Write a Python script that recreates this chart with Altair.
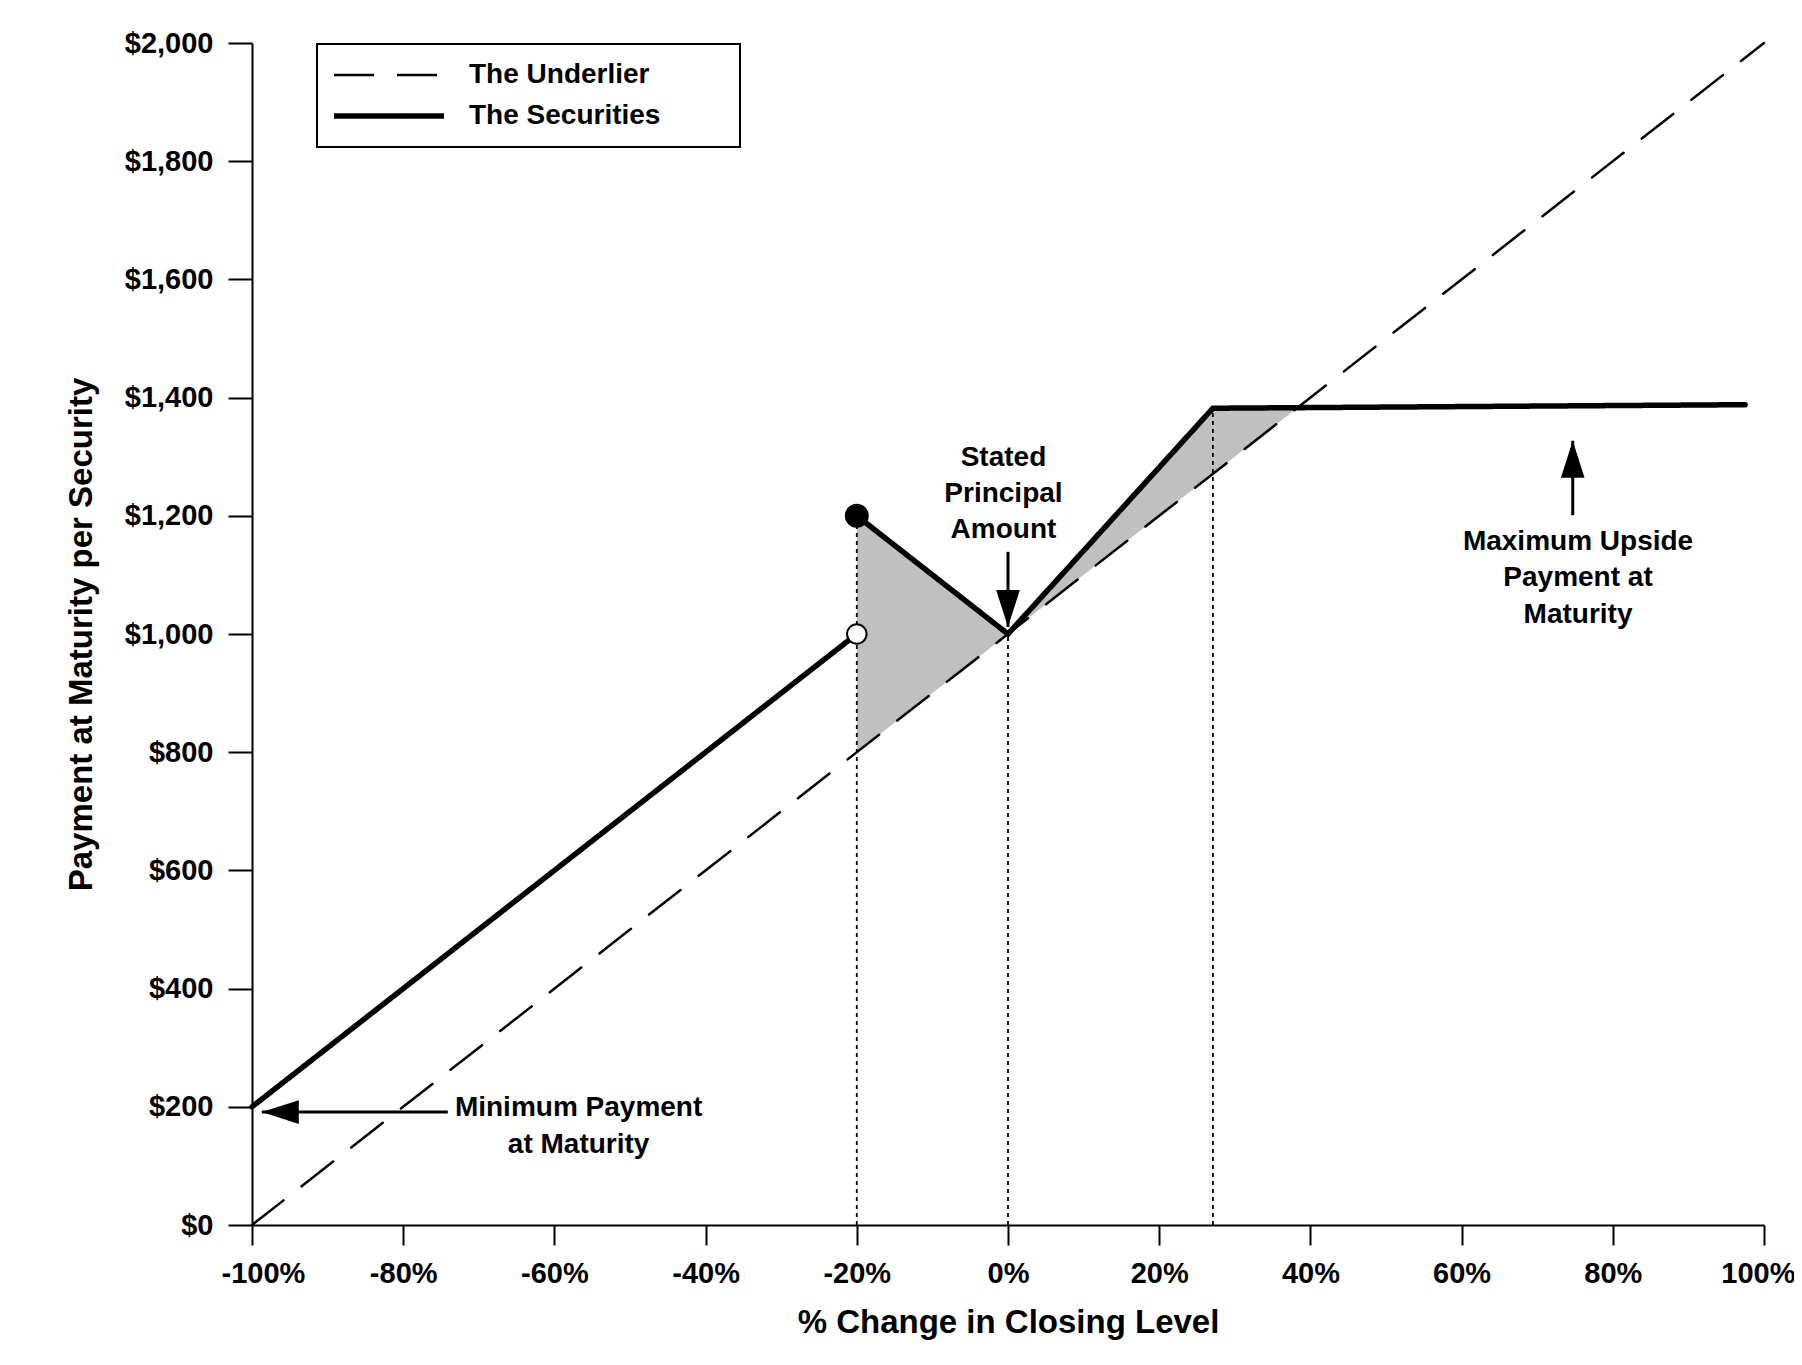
import altair as alt
import pandas as pd

# ---------------- data ----------------
x_ticks = [-100, -80, -60, -40, -20, 0, 20, 40, 60, 80, 100]
y_ticks = [0, 200, 400, 600, 800, 1000, 1200, 1400, 1600, 1800, 2000]
series_names = ["The Underlier", "The Securities"]

underlier_x = [-100, 100]
underlier_y = [0, 2000]

sec_low_x = [-100, -20]
sec_low_y = [200, 1000]

sec_high_x = [-20, 0, 27.1, 97.5]
sec_high_y = [1200, 1000, 1382, 1388]

shade_x = [-20, 0, 27.1, 38.3]
shade_upper = [1200, 1000, 1382, 1383]
shade_lower = [800, 1000, 1271, 1383]

guide_x = [-20, 0, 27.1]
guide_top = [1200, 1000, 1382]

filled_dot_x = [-20]
filled_dot_y = [1200]
open_dot_x = [-20]
open_dot_y = [1000]

# annotation texts
ann_text = ["Stated", "Principal", "Amount",
            "Maximum Upside", "Payment at", "Maturity",
            "Minimum Payment", "at Maturity"]
ann_x = [-0.6, -0.6, -0.6, 75.4, 75.4, 75.4, -56.8, -56.8]
ann_y = [1298, 1237, 1176, 1156, 1095, 1032, 198, 135]

# arrows: shaft from (x1,y1) to (x2,y2); head tip at (x2,y2)
arrow_dir = ["down", "up", "left"]
arrow_x1 = [0, 74.7, -74.1]
arrow_y1 = [1139, 1201, 191]
arrow_x2 = [0, 74.7, -98.7]
arrow_y2 = [1012, 1327, 191]

# ---------------- tables ----------------
rows = []
for i, (x, y) in enumerate(zip(underlier_x, underlier_y)):
    rows.append(dict(series="The Underlier", seg="u", x=x, y=y, o=i))
for i, (x, y) in enumerate(zip(sec_low_x, sec_low_y)):
    rows.append(dict(series="The Securities", seg="s1", x=x, y=y, o=i))
for i, (x, y) in enumerate(zip(sec_high_x, sec_high_y)):
    rows.append(dict(series="The Securities", seg="s2", x=x, y=y, o=i))
lines_df = pd.DataFrame(rows)

shade_df = pd.DataFrame({"x": shade_x, "y": shade_upper, "y2": shade_lower})
guide_df = pd.DataFrame({"x": guide_x, "y": [0] * len(guide_x), "y2": guide_top})
filled_df = pd.DataFrame({"x": filled_dot_x, "y": filled_dot_y})
open_df = pd.DataFrame({"x": open_dot_x, "y": open_dot_y})
ann_df = pd.DataFrame({"text": ann_text, "x": ann_x, "y": ann_y})
arrow_df = pd.DataFrame({"dir": arrow_dir, "x": arrow_x1, "y": arrow_y1,
                         "x2": arrow_x2, "y2": arrow_y2})

FONT = "Liberation Sans"

xscale = alt.Scale(domain=[-100, 100], nice=False, zero=False)
yscale = alt.Scale(domain=[0, 2000], nice=False)

x_axis = alt.Axis(values=x_ticks, labelExpr="datum.value + '%'", grid=False,
                  labelFlush=True, labelFlushOffset=31)
y_axis = alt.Axis(values=y_ticks, format="$,.0f", grid=False, labelFlush=False)

X_TITLE = "% Change in Closing Level"
Y_TITLE = "Payment at Maturity per Security"


def base_x(field="x"):
    return alt.X(f"{field}:Q", scale=xscale, axis=x_axis, title=X_TITLE)


def base_y(field="y"):
    return alt.Y(f"{field}:Q", scale=yscale, axis=y_axis, title=Y_TITLE)


# trailing non-breaking spaces (guarded by a zero-width char) widen the legend box
NB = "\u00a0" * 8 + "\u200b"
legend = alt.Legend(title=None, labelExpr="datum.label + '" + NB + "'")

shade = alt.Chart(shade_df).mark_area(color="#c0c0c0", opacity=1).encode(
    x=base_x(), y=base_y(), y2="y2:Q"
)

guides = alt.Chart(guide_df).mark_rule(
    color="black", strokeWidth=1.8, strokeDash=[4, 4]
).encode(x=base_x(), y=base_y(), y2="y2:Q")

lines = alt.Chart(lines_df).mark_line(color="black", strokeCap="round").encode(
    x=base_x(),
    y=base_y(),
    detail="seg:N",
    order="o:Q",
    strokeDash=alt.StrokeDash(
        "series:N",
        scale=alt.Scale(domain=series_names, range=[[40, 23], [1, 0]]),
        legend=legend,
    ),
    strokeWidth=alt.StrokeWidth(
        "series:N",
        scale=alt.Scale(domain=series_names, range=[2.5, 5.5]),
        legend=legend,
    ),
)

filled = alt.Chart(filled_df).mark_point(
    shape="circle", filled=True, fill="black", stroke="black", size=484, opacity=1
).encode(x=base_x(), y=base_y())

opened = alt.Chart(open_df).mark_point(
    shape="circle", filled=True, fill="white", stroke="black", strokeWidth=2,
    size=380, opacity=1
).encode(x=base_x(), y=base_y())

shafts = alt.Chart(arrow_df).mark_rule(color="black", strokeWidth=3).encode(
    x=base_x(), y=base_y(), x2="x2:Q", y2="y2:Q"
)

heads = alt.Chart(arrow_df).mark_point(
    filled=True, fill="black", strokeWidth=0, size=5476, opacity=1
).encode(
    x=base_x("x2"),
    y=base_y("y2"),
    shape=alt.Shape(
        "dir:N",
        scale=alt.Scale(
            domain=["down", "up", "left"],
            range=["M0,0L-0.32,-1L0.32,-1Z", "M0,0L-0.32,1L0.32,1Z", "M0,0L1,-0.32L1,0.32Z"],
        ),
        legend=None,
    ),
)

texts = alt.Chart(ann_df).mark_text(
    font=FONT, fontSize=28, fontWeight="bold", color="black",
    align="center", baseline="middle"
).encode(x=base_x(), y=base_y(), text="text:N")

chart = alt.layer(
    shade, lines, guides, filled, opened, shafts, heads, texts
).properties(
    width=1512,
    height=1182,
    autosize=alt.AutoSizeParams(type="none"),
    padding={"left": 244, "top": 35, "right": 30, "bottom": 130},
    background="white",
).configure_view(stroke=None).configure_axis(
    domainColor="black", domainWidth=2, tickColor="black", tickWidth=2,
    labelFont=FONT, labelFontSize=29, labelFontWeight="bold", labelColor="black",
    titleFont=FONT, titleFontSize=33, titleFontWeight="bold", titleColor="black",
    grid=False,
).configure_axisX(
    tickSize=20, labelPadding=14, titlePadding=18
).configure_axisY(
    tickSize=24, labelPadding=15, titlePadding=26
).configure_legend(
    orient="none", legendX=65, legendY=1,
    strokeColor="black", strokeWidth=2, fillColor="white", padding=17,
    labelFont=FONT, labelFontSize=28, labelFontWeight="bold", labelColor="black",
    labelLimit=800, symbolType="M-4.5,0H4.5", symbolSize=597,
    symbolStrokeColor="black", rowPadding=12, labelOffset=65, symbolOffset=40,
)

chart.save("out.html", embed_options={"renderer": "svg", "actions": False})
